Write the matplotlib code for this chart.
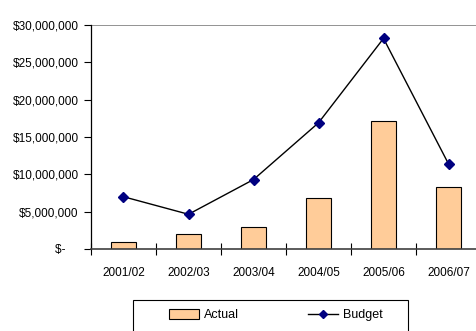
import numpy as np
import matplotlib.pyplot as plt
from matplotlib.ticker import FuncFormatter
from matplotlib.patches import Patch, Rectangle
from matplotlib.lines import Line2D

plt.rcParams['font.family'] = ['Liberation Sans Narrow', 'Liberation Sans', 'DejaVu Sans']

years = ['2001/02', '2002/03', '2003/04', '2004/05', '2005/06', '2006/07']
actual = [1.0e6, 2.0e6, 2.95e6, 6.8e6, 17.1e6, 8.35e6]
budget = [7.0e6, 4.65e6, 9.3e6, 16.9e6, 28.2e6, 11.4e6]

W, H = 477, 331
fig = plt.figure(figsize=(W / 100, H / 100), dpi=100)
ax = fig.add_axes([91 / W, (H - 249) / H, 390 / W, 224 / H])

x = np.arange(len(years))
ax.bar(x, actual, width=0.39, color='#FFCC99', edgecolor='black', linewidth=0.8, zorder=2)
ax.plot(x, budget, color='black', lw=1.0, marker='D', markersize=5,
        markerfacecolor='#000080', markeredgecolor='#000080', zorder=3)

ax.set_xlim(-0.5, 5.5)
ax.set_ylim(0, 30e6)
ax.set_yticks(np.arange(0, 30e6 + 1, 5e6))


def money(v, pos):
    # Excel accounting style: zero shown as a dash, indented
    if v == 0:
        return '$-    '
    return '${:,.0f}'.format(v)


ax.yaxis.set_major_formatter(FuncFormatter(money))
ax.set_xticks(x)
ax.set_xticklabels(years)
ax.set_xticks(np.arange(-0.5, 5.6, 1), minor=True)
ax.tick_params(axis='x', which='major', length=0, pad=13, labelsize=8.5)
ax.tick_params(axis='x', which='minor', length=8, direction='inout', width=0.8)
ax.tick_params(axis='y', length=5, direction='out', width=0.8, labelsize=8.5, pad=4)

ax.axhline(30e6, color='#808080', lw=1.2, zorder=1)
for s in ['top', 'right']:
    ax.spines[s].set_visible(False)
ax.spines['left'].set_linewidth(0.9)
ax.spines['bottom'].set_linewidth(1.2)
ax.spines['bottom'].set_color('#404040')

# legend box runs off the bottom edge of the image
fig.patches.append(Rectangle((133 / W, -10 / H), 275 / W, (H - 300 + 10) / H,
                             transform=fig.transFigure, facecolor='white',
                             edgecolor='black', linewidth=0.8, zorder=0))
handles = [Patch(facecolor='#FFCC99', edgecolor='black', linewidth=0.8),
           Line2D([0], [0], color='black', lw=1.0, marker='D', markersize=4,
                  markerfacecolor='#000080', markeredgecolor='#000080')]
fig.legend(handles, ['Actual', 'Budget'], ncol=2, loc='center left',
           bbox_to_anchor=(169 / W, (H - 315) / H), frameon=False,
           fontsize=9, handlelength=2.4, handleheight=0.9, columnspacing=5.5,
           borderpad=0, handletextpad=0.4, borderaxespad=0)

fig.savefig('out.png', dpi=100)
